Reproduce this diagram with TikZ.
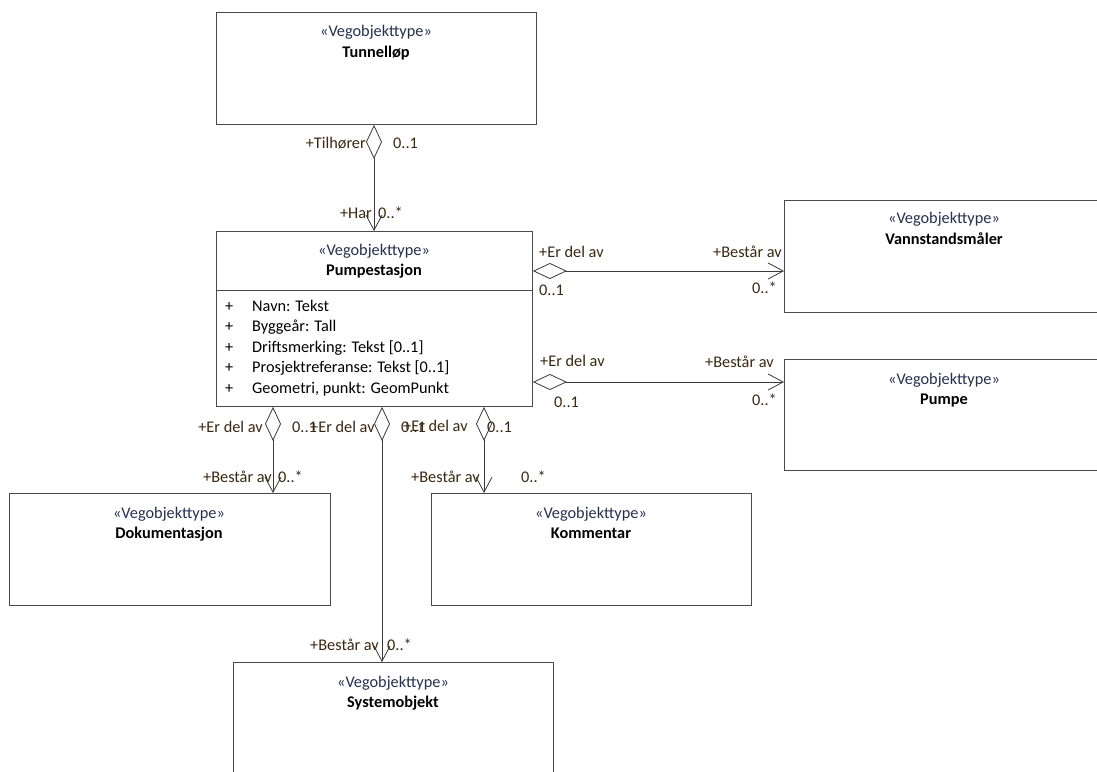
\documentclass[tikz,border=0pt]{standalone}
\usepackage{fontspec}
\setmainfont{Carlito}
\usetikzlibrary{arrows.meta,calc}
\definecolor{boxline}{HTML}{4A4A4A}
\definecolor{conline}{HTML}{3A3A3A}
\definecolor{stereo}{HTML}{26304F}
\definecolor{lbl}{HTML}{3A2810}
\begin{document}
\begin{tikzpicture}[x=1pt,y=-1pt,
  umlbox/.style={draw=boxline, line width=0.9pt, anchor=north west, inner sep=0pt, fill=white, minimum width=320pt, minimum height=112pt},
  ster/.style={inner sep=0pt, text=stereo, font=\fontsize{16.3}{19}\selectfont, text height=11.5pt, text depth=3.5pt},
  cname/.style={inner sep=0pt, text=black, font=\fontsize{16.3}{19}\selectfont\bfseries, text height=11.5pt, text depth=3.5pt},
  attr/.style={inner sep=0pt, anchor=west, text=black, font=\fontsize{16.3}{19}\selectfont, text height=11.5pt, text depth=3.5pt},
  lab/.style={inner sep=0pt, text=lbl, font=\fontsize{16.3}{19}\selectfont, text height=11.5pt, text depth=3.5pt},
  assoc/.style={draw=conline, line width=0.8pt, {Diamond[open,fill=white,length=34pt,width=16pt,line width=0.8pt]}-{Straight Barb[length=15pt,width=16pt,line width=0.8pt]}}
]
\clip (0,0) rectangle (1097,771);
\useasboundingbox (0,0) rectangle (1097,771);
\fill[white] (0,0) rectangle (1097,771);

% Boxes
\node[umlbox] (tun) at (216,12) {};
\node[ster] (tunS) at (376,32) {«Vegobjekttype»};
\node[cname] (tunN) at (376,53) {Tunnelløp};

\node[umlbox, minimum width=316pt, minimum height=175pt] (pst) at (216,231) {};
\draw[boxline, line width=0.9pt] (pst.west |- 0,290) coordinate (divL) -- (pst.east |- 0,290) coordinate (divR);
\node[ster] (pstS) at (374,251) {«Vegobjekttype»};
\node[cname] (pstN) at (374,271) {Pumpestasjon};
\foreach \yy/\txt [count=\i] in {307/Navn: Tekst, 327/Byggeår: Tall, 348/Driftsmerking: Tekst [0..1], 368/Prosjektreferanse: Tekst [0..1], 389/{Geometri, punkt: GeomPunkt}}{
  \node[attr] (plus\i) at (225,\yy) {+};
  \node[attr] (att\i) at (252,\yy) {\txt};
}

\node[umlbox, minimum width=314pt] (van) at (784,200) {};
\node[ster] (vanS) at (944,219) {«Vegobjekttype»};
\node[cname] (vanN) at (944,240) {Vannstandsmåler};

\node[umlbox, minimum width=314pt, minimum height=111pt] (pum) at (784,359) {};
\node[ster] (pumS) at (944,380) {«Vegobjekttype»};
\node[cname] (pumN) at (944,400) {Pumpe};

\node[umlbox, minimum width=321pt] (dok) at (9,493) {};
\node[ster] (dokS) at (169,514) {«Vegobjekttype»};
\node[cname] (dokN) at (169,534) {Dokumentasjon};

\node[umlbox] (kom) at (431,493) {};
\node[ster] (komS) at (591,514) {«Vegobjekttype»};
\node[cname] (komN) at (591,534) {Kommentar};

\node[umlbox, minimum height=130pt] (sys) at (233,662) {};
\node[ster] (sysS) at (393,683) {«Vegobjekttype»};
\node[cname] (sysN) at (393,703) {Systemobjekt};

% Connectors
\draw[assoc] (tun.south -| 374,0) -- (pst.north -| 374,0);
\draw[assoc] (pst.east |- 0,271) -- (van.west |- 0,271);
\draw[assoc] (pst.east |- 0,382) -- (pum.west |- 0,382);
\draw[assoc] (pst.south -| 273,0) -- (dok.north -| 273,0);
\draw[assoc] (pst.south -| 382,0) -- (sys.north -| 382,0);
\draw[assoc] (pst.south -| 484,0) -- (kom.north -| 484,0);

% Labels
\node[lab, anchor=east] (l1) at (366,144) {+Tilhører};
\node[lab, anchor=west] (l2) at (393,144) {0..1};
\node[lab, anchor=east] (l3) at (372,214) {+Har};
\node[lab, anchor=west] (l4) at (378,214) {0..*};

\node[lab, anchor=west] (l5) at (539,253) {+Er del av};
\node[lab, anchor=west] (l6) at (539,291) {0..1};
\node[lab, anchor=east] (l7) at (782,253) {+Består av};
\node[lab, anchor=east] (l8) at (777,289) {0..*};

\node[lab, anchor=west] (l9) at (540,362) {+Er del av};
\node[lab, anchor=west] (l10) at (554,403) {0..1};
\node[lab, anchor=east] (l11) at (774,363) {+Består av};
\node[lab, anchor=east] (l12) at (777,401) {0..*};

\node[lab, anchor=east] (l13) at (263,428) {+Er del av};
\node[lab, anchor=west] (l14) at (292,428) {0..1};
\node[lab, anchor=east] (l15) at (272,478) {+Består av};
\node[lab, anchor=west] (l16) at (278,478) {0..*};

\node[lab, anchor=west] (l17) at (310,428) {+Er del av};
\node[lab, anchor=west] (l18) at (401,428) {0..1};
\node[lab, anchor=west] (l19) at (310,646) {+Består av};
\node[lab, anchor=west] (l20) at (387,646) {0..*};

\node[lab, anchor=west] (l21) at (403,427) {+Er del av};
\node[lab, anchor=west] (l22) at (487,428) {0..1};
\node[lab, anchor=west] (l23) at (411,478) {+Består av};
\node[lab, anchor=west] (l24) at (521,478) {0..*};
\end{tikzpicture}
\end{document}
